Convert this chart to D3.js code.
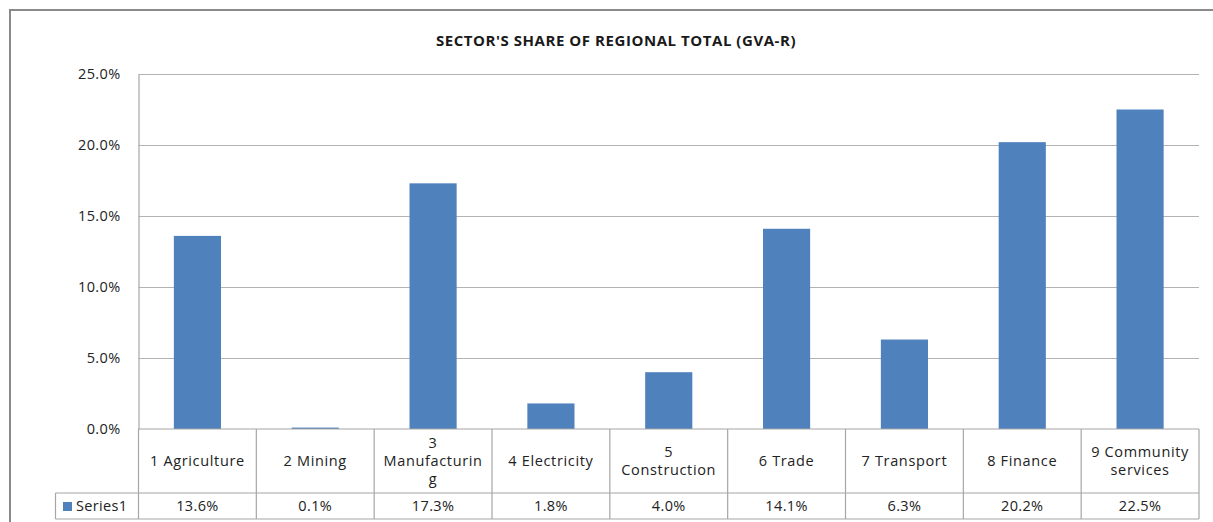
<!DOCTYPE html>
<html>
<head>
<meta charset="utf-8">
<script src="https://cdn.jsdelivr.net/npm/d3@7"></script>
<style>
  html, body { margin: 0; padding: 0; background: #fff; }
  svg { display: block; font-family: "Open Sans", "Noto Sans", sans-serif; }
</style>
</head>
<body>
<svg id="chart" width="1213" height="522"></svg>
<script>
const categories = ["1 Agriculture", "2 Mining", "3 Manufacturing", "4 Electricity", "5 Construction", "6 Trade", "7 Transport", "8 Finance", "9 Community services"];
const categoryLines = [["1 Agriculture"], ["2 Mining"], ["3", "Manufacturin", "g"], ["4 Electricity"], ["5", "Construction"], ["6 Trade"], ["7 Transport"], ["8 Finance"], ["9 Community", "services"]];
const seriesName = "Series1";
const values = [0.136, 0.001, 0.173, 0.018, 0.040, 0.141, 0.063, 0.202, 0.225];
const valueLabels = ["13.6%", "0.1%", "17.3%", "1.8%", "4.0%", "14.1%", "6.3%", "20.2%", "22.5%"];
const yTicks = [0, 0.05, 0.10, 0.15, 0.20, 0.25];
const title = "SECTOR'S SHARE OF REGIONAL TOTAL (GVA-R)";

(function () {
const svg = d3.select("#chart");
const pLeft = 138.5, pRight = 1199, pTop = 74, pBottom = 429;
const rowCatBottom = 493, rowValBottom = 519, legendLeft = 55.5;
const fs = 14.5, ls = "0.35px", lsCat = "0.65px";

const x = d3.scaleBand().domain(categories).range([pLeft, pRight]).paddingInner(0.6).paddingOuter(0.3);
const xCell = d3.scaleBand().domain(categories).range([pLeft, pRight]).padding(0);
const y = d3.scaleLinear().domain([0, 0.25]).range([pBottom, pTop]);

// outer border
svg.append("rect").attr("x", 10).attr("y", 10).attr("width", 1220).attr("height", 530)
  .attr("fill", "none").attr("stroke", "#8a8a8a").attr("stroke-width", 2);

// title
svg.append("text").attr("x", 616).attr("y", 46).attr("text-anchor", "middle")
  .attr("font-size", 15).attr("font-weight", "bold").attr("letter-spacing", "0.55px")
  .attr("fill", "#1a1a1a").text(title);

// gridlines
svg.append("g").selectAll("line").data(yTicks.filter(d => d > 0)).join("line")
  .attr("x1", pLeft).attr("x2", pRight)
  .attr("y1", d => Math.round(y(d)) + 0.5).attr("y2", d => Math.round(y(d)) + 0.5)
  .attr("stroke", "#b3b3b3").attr("stroke-width", 1.2);

// y axis
const yAxis = d3.axisLeft(y).tickValues(yTicks).tickFormat(d3.format(".1%")).tickSize(0).tickPadding(18);
const gy = svg.append("g").attr("transform", `translate(${pLeft},0)`).call(yAxis);
gy.select(".domain").attr("stroke", "#a6a6a6").attr("stroke-width", 1.2);
gy.selectAll("text").attr("font-size", fs).attr("letter-spacing", ls).attr("fill", "#222")
  .attr("dy", "0.33em").attr("font-family", "\"Open Sans\", sans-serif");

// bars
svg.append("g").selectAll("rect").data(values).join("rect")
  .attr("x", (d, i) => x(categories[i]))
  .attr("width", x.bandwidth())
  .attr("y", d => y(d))
  .attr("height", d => y(0) - y(d))
  .attr("fill", "#4f81bd");

// table
const tg = svg.append("g").attr("stroke", "#a6a6a6").attr("stroke-width", 1.2);
tg.append("line").attr("x1", pLeft).attr("x2", pRight).attr("y1", pBottom).attr("y2", pBottom);
tg.append("line").attr("x1", legendLeft).attr("x2", pRight).attr("y1", rowCatBottom).attr("y2", rowCatBottom);
tg.append("line").attr("x1", legendLeft).attr("x2", pRight).attr("y1", rowValBottom).attr("y2", rowValBottom);
tg.append("line").attr("x1", legendLeft).attr("x2", legendLeft).attr("y1", rowCatBottom).attr("y2", rowValBottom);
const boundaries = categories.map(c => xCell(c)).concat([pRight]);
tg.selectAll(".vb").data(boundaries).join("line").attr("class", "vb")
  .attr("x1", d => d).attr("x2", d => d).attr("y1", pBottom).attr("y2", rowValBottom);

// category labels
const lh = 18;
const catG = svg.append("g").attr("font-size", fs).attr("letter-spacing", lsCat).attr("fill", "#222").attr("text-anchor", "middle");
categoryLines.forEach((lines, i) => {
  const cx = xCell(categories[i]) + xCell.bandwidth() / 2;
  const mid = (pBottom + rowCatBottom) / 2;
  const startY = mid - (lines.length - 1) * lh / 2 + 4.5;
  const t = catG.append("text");
  lines.forEach((ln, j) => {
    t.append("tspan").attr("x", cx).attr("y", startY + j * lh).text(ln);
  });
});

// value labels
svg.append("g").attr("font-size", fs).attr("letter-spacing", ls).attr("fill", "#222").attr("text-anchor", "middle")
  .selectAll("text").data(valueLabels).join("text")
  .attr("x", (d, i) => xCell(categories[i]) + xCell.bandwidth() / 2)
  .attr("y", (rowCatBottom + rowValBottom) / 2 + 5)
  .text(d => d);

// legend key
svg.append("rect").attr("x", 63).attr("y", 502).attr("width", 9).attr("height", 9).attr("fill", "#4f81bd");
svg.append("text").attr("x", 76).attr("y", 511).attr("font-size", fs).attr("letter-spacing", ls).attr("fill", "#222").text(seriesName);
})();
</script>
</body>
</html>
